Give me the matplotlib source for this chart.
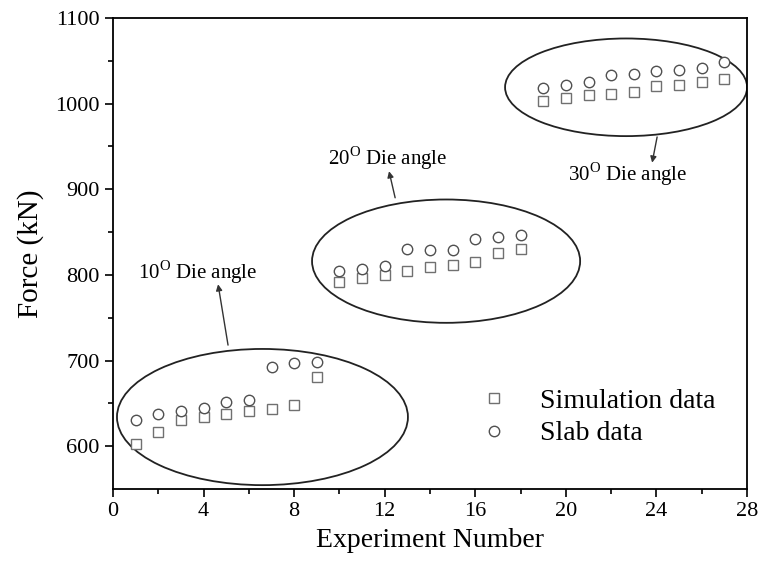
import matplotlib
matplotlib.use("Agg")
import matplotlib.pyplot as plt
from matplotlib.patches import Ellipse

plt.rcParams['font.family'] = 'Liberation Serif'
plt.rcParams['mathtext.fontset'] = 'custom'
plt.rcParams['mathtext.rm'] = 'Liberation Serif'

experiment = list(range(1, 28))
simulation = [602, 616, 630, 634, 638, 641, 643, 648, 681,
              792, 796, 800, 804, 809, 812, 815, 825, 830,
              1003, 1007, 1010, 1011, 1014, 1020, 1022, 1025, 1029]
slab = [630, 637, 641, 645, 651, 654, 693, 697, 698,
        804, 807, 810, 830, 829, 829, 842, 844, 847,
        1018, 1022, 1025, 1033, 1035, 1038, 1039, 1041, 1048]

# ellipse groups: (center x, center y, width, height)
groups = [(6.6, 634, 12.85, 159), (14.71, 816, 11.84, 144), (22.66, 1019, 10.69, 114)]
group_labels = ['10$^{\\mathrm{O}}$ Die angle', '20$^{\\mathrm{O}}$ Die angle',
                '30$^{\\mathrm{O}}$ Die angle']
# text position, arrow tail (on ellipse), arrow head
label_pos = [(3.75, 803), (12.15, 936), (22.75, 917)]
arrow_tail = [(5.08, 718), (12.46, 890), (24.03, 961)]
arrow_head = [(4.64, 789), (12.19, 921), (23.81, 931)]

fig = plt.figure(figsize=(7.6, 5.78), dpi=100)
ax = fig.add_axes([0.1487, 0.154, 0.8342, 0.815])

ax.plot(experiment, simulation, linestyle='none', marker='s', markersize=7,
        markerfacecolor='white', markeredgecolor='#707070', markeredgewidth=1.0,
        label='Simulation data')
ax.plot(experiment, slab, linestyle='none', marker='o', markersize=7.5,
        markerfacecolor='white', markeredgecolor='#505050', markeredgewidth=1.0,
        label='Slab data')

for cx, cy, w, h in groups:
    ax.add_patch(Ellipse((cx, cy), w, h, fill=False, edgecolor='#222222', lw=1.3))

for lab, pos, tail, head in zip(group_labels, label_pos, arrow_tail, arrow_head):
    ax.text(pos[0], pos[1], lab, ha='center', va='center', fontsize=15)
    ax.annotate('', xy=head, xytext=tail,
                arrowprops=dict(arrowstyle='-|>', color='#333333', lw=1,
                                mutation_scale=9, shrinkA=0, shrinkB=0))

ax.set_xlim(0, 28)
ax.set_ylim(550, 1100)
ax.set_xticks(range(0, 29, 4))
ax.set_xticks(range(2, 28, 4), minor=True)
ax.set_yticks(range(600, 1101, 100))
ax.set_yticks(range(650, 1100, 100), minor=True)
ax.tick_params(which='major', direction='out', length=6, width=1.2, labelsize=16)
ax.tick_params(which='minor', direction='out', length=3.5, width=1.2)
for s in ax.spines.values():
    s.set_linewidth(1.3)

ax.set_xlabel('Experiment Number', fontsize=20, labelpad=5)
ax.set_ylabel('Force (kN)', fontsize=21, labelpad=8)

ax.legend(loc='center left', bbox_to_anchor=(0.535, 0.152), frameon=False,
          fontsize=20, handlelength=1.2, handletextpad=1.05, labelspacing=0.25)

fig.savefig('out.png', dpi=100)
